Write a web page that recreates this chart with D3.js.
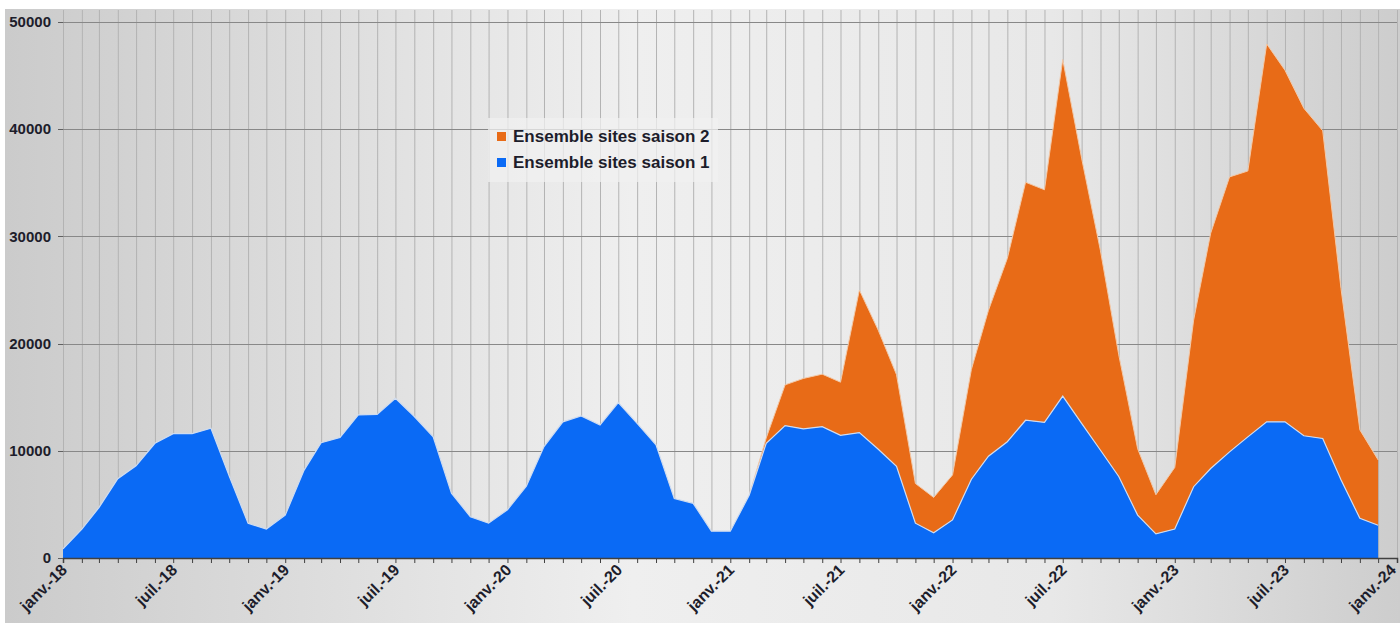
<!DOCTYPE html>
<html>
<head>
<meta charset="utf-8">
<script src="https://cdn.jsdelivr.net/npm/d3@7"></script>
<style>
  html, body { margin: 0; padding: 0; background: #fff; }
  svg { display: block; }
</style>
</head>
<body>
<div id="chart"></div>
<script>
// monthly values, janv.-18 .. déc.-23
const saison1 = [
  850, 2700, 4700, 7400, 8600, 10700, 11600, 11600, 12100, 7650, 3240, 2700,
  4000, 8200, 10750, 11250, 13350, 13400, 14900, 13200, 11300, 6050, 3850, 3250,
  4500, 6700, 10400, 12700, 13250, 12400, 14500, 12550, 10550, 5550, 5100, 2500,
  2500, 5850, 10700, 12350, 12050, 12250, 11450, 11700, 10150, 8550, 3250, 2350,
  3550, 7350, 9500, 10850, 12850, 12650, 15100, 12550, 10050, 7600, 4000, 2250,
  2700, 6650, 8350, 9900, 11300, 12700, 12700, 11400, 11150, 7300, 3700, 3050
];
const saison2 = [
  null, null, null, null, null, null, null, null, null, null, null, null,
  null, null, null, null, null, null, null, null, null, null, null, null,
  null, null, null, null, null, null, null, null, null, null, null, null,
  null, 0, 500, 3800, 4700, 4900, 4950, 13300, 11100, 8550, 3700, 3300,
  4200, 10250, 13600, 17100, 22200, 21700, 31400, 24750, 18600, 11350, 6200, 3650,
  5750, 15550, 21950, 25650, 24800, 35250, 32800, 30550, 28700, 17850, 8250, 6100
];
const seriesNames = ["Ensemble sites saison 2", "Ensemble sites saison 1"];
const yTicks = [0, 10000, 20000, 30000, 40000, 50000];
const monthNames = ["janv.", "févr.", "mars", "avr.", "mai", "juin", "juil.", "août", "sept.", "oct.", "nov.", "déc."];

const width = 1400, height = 623;
const marginLeft = 63, marginRight = 3, marginTop = 22, marginBottom = 65;
const blue = "#0a6af5", orange = "#e86b17";

const months = d3.timeMonth.range(new Date(2018, 0, 1), new Date(2024, 0, 1));
const rows = months.map((d, i) => ({date: d, s1: saison1[i], s2: saison2[i]}));

const x = d3.scaleTime()
    .domain([new Date(2018, 0, 1), new Date(2024, 0, 1)])
    .range([marginLeft, width - marginRight]);
const y = d3.scaleLinear()
    .domain([0, 50000])
    .range([height - marginBottom, marginTop]);

const svg = d3.select("#chart").append("svg")
    .attr("width", width)
    .attr("height", height)
    .style("font-family", "'Liberation Sans', Arial, sans-serif");

// background gradient like the spreadsheet chart
const defs = svg.append("defs");
const grad = defs.append("linearGradient").attr("id", "bg").attr("x1", 0).attr("x2", 1).attr("y1", 0).attr("y2", 0);
grad.append("stop").attr("offset", "0%").attr("stop-color", "#cbcbcb");
grad.append("stop").attr("offset", "45%").attr("stop-color", "#efefef");
grad.append("stop").attr("offset", "75%").attr("stop-color", "#e8e8e8");
grad.append("stop").attr("offset", "100%").attr("stop-color", "#cdcdcd");

svg.append("rect")
    .attr("x", 5).attr("y", 9)
    .attr("width", width - 5).attr("height", height - 9)
    .attr("fill", "url(#bg)");

// vertical grid (one per month)
const allMonths = d3.timeMonth.range(new Date(2018, 0, 1), new Date(2024, 0, 2));
svg.append("g")
  .selectAll("line")
  .data(allMonths)
  .join("line")
    .attr("x1", d => x(d) + 0.5).attr("x2", d => x(d) + 0.5)
    .attr("y1", 10).attr("y2", y(0))
    .attr("stroke", "#b3b3b3")
    .attr("stroke-width", 1);

// horizontal grid
svg.append("g")
  .selectAll("line")
  .data(yTicks.slice(1))
  .join("line")
    .attr("x1", marginLeft).attr("x2", width - marginRight)
    .attr("y1", d => Math.round(y(d)) + 0.5).attr("y2", d => Math.round(y(d)) + 0.5)
    .attr("stroke", "#888")
    .attr("stroke-width", 1);

// areas: orange stacked on top of blue
const areaOrange = d3.area()
    .defined(d => d.s2 !== null)
    .x(d => x(d.date))
    .y0(d => y(d.s1))
    .y1(d => y(d.s1 + d.s2));
const areaBlue = d3.area()
    .x(d => x(d.date))
    .y0(y(0))
    .y1(d => y(d.s1));
const lineTop = d3.line()
    .defined(d => d.s2 !== null)
    .x(d => x(d.date))
    .y(d => y(d.s1 + d.s2));
const lineBlue = d3.line()
    .x(d => x(d.date))
    .y(d => y(d.s1));

svg.append("path")
    .datum(rows)
    .attr("d", areaOrange)
    .attr("fill", orange);
svg.append("path")
    .datum(rows)
    .attr("d", lineTop)
    .attr("fill", "none")
    .attr("stroke", "#f3c9a8")
    .attr("stroke-width", 1);
svg.append("path")
    .datum(rows)
    .attr("d", areaBlue)
    .attr("fill", blue);
svg.append("path")
    .datum(rows)
    .attr("d", lineBlue)
    .attr("fill", "none")
    .attr("stroke", "#cfdcf0")
    .attr("stroke-width", 1.2);

// x axis
const xAxis = d3.axisBottom(x)
    .tickValues(allMonths)
    .tickSize(5)
    .tickFormat("");
svg.append("g")
    .attr("transform", `translate(0,${y(0)})`)
    .call(xAxis)
    .call(g => g.select(".domain").attr("stroke", "#404040").attr("stroke-width", 1.5))
    .call(g => g.selectAll(".tick line").attr("stroke", "#404040"));

const labelMonths = allMonths.filter(d => d.getMonth() % 6 === 0);
svg.append("g")
  .selectAll("text")
  .data(labelMonths)
  .join("text")
    .attr("transform", d => `translate(${Math.min(x(d) + 5, width - 3)},${y(0) + 13}) rotate(-45)`)
    .attr("text-anchor", "end")
    .attr("font-size", 16)
    .attr("font-weight", "bold")
    .attr("fill", "#1d1d2b")
    .text(d => `${monthNames[d.getMonth()]}-${String(d.getFullYear()).slice(2)}`);

// y axis labels
svg.append("g")
  .selectAll("text")
  .data(yTicks)
  .join("text")
    .attr("x", 51)
    .attr("y", d => y(d))
    .attr("dy", "0.35em")
    .attr("text-anchor", "end")
    .attr("font-size", 15)
    .attr("font-weight", "bold")
    .attr("fill", "#1d1d2b")
    .text(d => d);
svg.append("g")
  .selectAll("line")
  .data(yTicks)
  .join("line")
    .attr("x1", marginLeft - 5).attr("x2", marginLeft)
    .attr("y1", d => Math.round(y(d)) + 0.5).attr("y2", d => Math.round(y(d)) + 0.5)
    .attr("stroke", "#606060");

// legend
const legend = svg.append("g").attr("transform", "translate(488,118)");
legend.append("rect")
    .attr("width", 230).attr("height", 64)
    .attr("fill", "#f0f0f0").attr("opacity", 0.75);
legend.selectAll("g")
  .data(seriesNames)
  .join("g")
    .attr("transform", (d, i) => `translate(9,${18 + i * 26})`)
    .each(function(d, i) {
        const g = d3.select(this);
        g.append("rect").attr("x", 0).attr("y", -4).attr("width", 9).attr("height", 9)
            .attr("fill", i === 0 ? orange : blue);
        g.append("text").attr("x", 16).attr("y", 0).attr("dy", "0.35em")
            .attr("font-size", 17).attr("font-weight", "bold").attr("fill", "#1d1d2b")
            .text(d);
    });
</script>
</body>
</html>
